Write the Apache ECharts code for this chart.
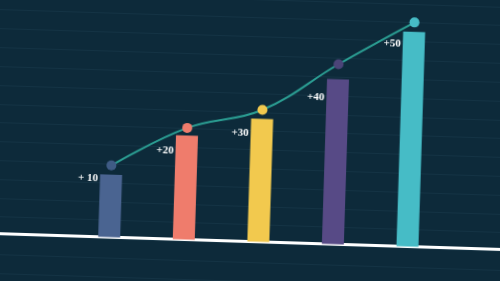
<!DOCTYPE html>
<html>
<head>
<meta charset="utf-8">
<script src="https://cdn.jsdelivr.net/npm/echarts@6/dist/echarts.min.js"></script>
<style>
  html, body { margin: 0; padding: 0; width: 500px; height: 281px; overflow: hidden; background: #0d2a3a; }
  #chart { position: absolute; left: -20px; top: -20px; width: 540px; height: 320px; transform: rotate(1.8deg); transform-origin: 50% 50%; }
</style>
</head>
<body>
<div id="chart"></div>
<script>
const categories = ['A', 'B', 'C', 'D', 'E'];
const barValues = [26, 43.3, 51.2, 68.8, 89.5];
const lineValues = [29.9, 46.5, 55, 75, 93.4];
const barLabels = ['+ 10', '+20', '+30', '+40', '+50'];
const colors = ['#4a6491', '#ef7c6c', '#f2c94e', '#574a86', '#46bcc6'];
const dotColors = ['#3f5b85', '#ef7c6c', '#f2c94e', '#4b4478', '#46bcc6'];
// label vertical offsets below bar tops (style only)
const labelDrop = [4, 16, 15, 19, 12];

const chart = echarts.init(document.getElementById('chart'), null, { renderer: 'canvas' });
chart.setOption({
  backgroundColor: '#0d2a3a',
  animation: false,
  grid: [
    { left: 0, right: 0, top: -3, height: 323 },
    { left: -60, right: -60, top: 20, bottom: 58.5 },
    { left: 95, right: 72, top: 21.5, bottom: 58.5 }
  ],
  xAxis: [
    { gridIndex: 0, type: 'value', show: false },
    { gridIndex: 1, type: 'value', min: 0, max: 1,
      axisLine: { show: true, lineStyle: { color: '#ffffff', width: 3 } },
      axisTick: { show: false }, axisLabel: { show: false }, splitLine: { show: false } },
    { gridIndex: 2, type: 'category', data: categories, show: false }
  ],
  yAxis: [
    { gridIndex: 0, type: 'value', inverse: true, min: 0, max: 323, interval: 19,
      axisLine: { show: false }, axisTick: { show: false }, axisLabel: { show: false },
      splitLine: { show: true, lineStyle: { color: 'rgba(110,160,190,0.08)', width: 1 } } },
    { gridIndex: 1, type: 'value', show: false },
    { gridIndex: 2, type: 'value', min: 0, max: 100, show: false }
  ],
  series: [
    {
      type: 'bar', xAxisIndex: 2, yAxisIndex: 2,
      barWidth: 22,
      data: barValues.map((v, i) => ({
        value: v,
        itemStyle: { color: colors[i] },
        label: { position: [-2, labelDrop[i]] }
      })),
      label: {
        show: true,
        align: 'right',
        verticalAlign: 'middle',
        color: '#ffffff',
        fontFamily: 'Liberation Serif',
        fontWeight: 'bold',
        fontSize: 11,
        formatter: p => barLabels[p.dataIndex]
      },
      z: 2
    },
    {
      type: 'line', xAxisIndex: 2, yAxisIndex: 2,
      smooth: 0.4,
      symbol: 'circle',
      symbolSize: 10,
      lineStyle: { color: '#2b9e93', width: 2 },
      data: lineValues.map((v, i) => ({ value: v, itemStyle: { color: dotColors[i] } })),
      z: 3
    }
  ]
});
</script>
</body>
</html>
